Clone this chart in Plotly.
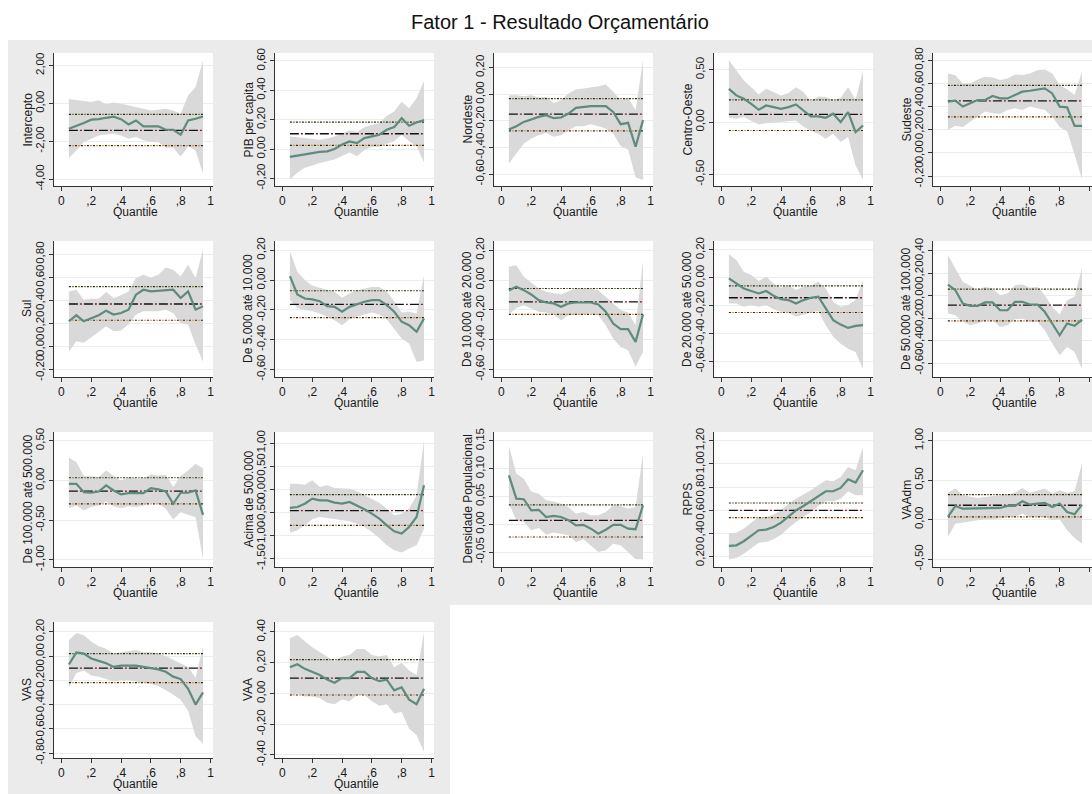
import plotly.graph_objects as go

# ---------------- data ----------------
quantiles = [0.05, 0.10, 0.15, 0.20, 0.25, 0.30, 0.35, 0.40, 0.45, 0.50,
             0.55, 0.60, 0.65, 0.70, 0.75, 0.80, 0.85, 0.90, 0.95]

x_tick_vals = [0, 0.2, 0.4, 0.6, 0.8, 1]
x_tick_text = ["0", ",2", ",4", ",6", ",8", "1"]

# Intercepto
intercepto_coef = [-1.34, -1.21, -1.04, -0.86, -0.83, -0.76, -0.70, -0.83, -1.11, -0.90, -1.21, -1.21, -1.21, -1.39, -1.39, -1.65, -0.90, -0.81, -0.69]
intercepto_hi = [0.23, 0.16, 0.12, 0.07, 0.16, -0.05, 0.05, -0.02, -0.11, -0.19, -0.28, -0.37, -0.33, -0.28, -0.37, -0.55, 0.42, 0.86, 2.27]
intercepto_lo = [-2.88, -2.48, -2.04, -1.86, -1.69, -1.64, -1.60, -1.69, -1.86, -1.78, -1.95, -2.04, -2.04, -2.34, -2.34, -2.80, -2.27, -2.48, -3.71]
intercepto_ols = [-1.42, -2.23, -0.58]

# PIB per capita
pib_coef = [-0.054, -0.045, -0.036, -0.027, -0.020, -0.016, 0.000, 0.030, 0.052, 0.040, 0.074, 0.086, 0.097, 0.131, 0.149, 0.210, 0.158, 0.180, 0.198]
pib_hi = [0.086, 0.079, 0.072, 0.068, 0.063, 0.072, 0.086, 0.108, 0.126, 0.117, 0.149, 0.165, 0.176, 0.225, 0.255, 0.322, 0.277, 0.345, 0.464]
pib_lo = [-0.207, -0.162, -0.128, -0.113, -0.095, -0.083, -0.072, -0.050, -0.023, -0.050, -0.005, 0.014, 0.014, 0.036, 0.052, 0.097, 0.052, 0.018, -0.090]
pib_ols = [0.104, 0.025, 0.183]

# Nordeste
ne_coef = [-0.265, -0.240, -0.208, -0.190, -0.170, -0.158, -0.180, -0.175, -0.145, -0.103, -0.095, -0.090, -0.090, -0.090, -0.133, -0.225, -0.215, -0.395, -0.195]
ne_hi = [-0.008, -0.008, -0.015, -0.008, -0.025, -0.020, -0.065, -0.045, 0.005, 0.035, 0.043, 0.050, 0.060, 0.073, 0.018, -0.045, -0.025, -0.120, 0.255]
ne_lo = [-0.520, -0.445, -0.370, -0.333, -0.308, -0.290, -0.320, -0.308, -0.270, -0.240, -0.240, -0.225, -0.240, -0.258, -0.295, -0.390, -0.415, -0.625, -0.645]
ne_ols = [-0.150, -0.275, -0.033]

# Centro-Oeste
co_coef = [0.318, 0.255, 0.223, 0.175, 0.118, 0.159, 0.143, 0.127, 0.143, 0.169, 0.111, 0.054, 0.054, 0.041, 0.080, 0.000, 0.096, -0.096, -0.032]
co_hi = [0.590, 0.494, 0.398, 0.334, 0.264, 0.318, 0.287, 0.255, 0.277, 0.334, 0.287, 0.200, 0.245, 0.239, 0.207, 0.232, 0.334, 0.213, 0.494]
co_lo = [0.041, 0.032, 0.048, 0.016, -0.022, -0.010, 0.000, 0.000, 0.010, 0.016, -0.041, -0.086, -0.111, -0.159, -0.111, -0.190, -0.143, -0.414, -0.551]
co_ols = [0.073, -0.080, 0.213]

# Sudeste
se_coef = [0.443, 0.451, 0.400, 0.429, 0.457, 0.457, 0.491, 0.471, 0.471, 0.500, 0.529, 0.537, 0.549, 0.557, 0.514, 0.400, 0.394, 0.234, 0.234]
se_hi = [0.686, 0.671, 0.600, 0.600, 0.634, 0.657, 0.651, 0.629, 0.643, 0.677, 0.674, 0.686, 0.714, 0.720, 0.686, 0.586, 0.549, 0.500, 0.700]
se_lo = [0.200, 0.234, 0.223, 0.271, 0.314, 0.357, 0.343, 0.337, 0.371, 0.386, 0.371, 0.400, 0.386, 0.371, 0.314, 0.223, 0.186, -0.014, -0.229]
se_ols = [0.449, 0.311, 0.583]

# Sul
sul_coef = [0.219, 0.271, 0.219, 0.248, 0.271, 0.311, 0.277, 0.291, 0.320, 0.450, 0.493, 0.478, 0.484, 0.493, 0.493, 0.421, 0.478, 0.320, 0.349]
sul_hi = [0.478, 0.493, 0.406, 0.415, 0.415, 0.473, 0.421, 0.444, 0.478, 0.594, 0.622, 0.600, 0.622, 0.686, 0.666, 0.608, 0.709, 0.594, 0.839]
sul_lo = [-0.046, 0.046, 0.032, 0.075, 0.127, 0.176, 0.133, 0.138, 0.190, 0.277, 0.305, 0.305, 0.305, 0.320, 0.291, 0.205, 0.190, 0.017, -0.133]
sul_ols = [0.369, 0.228, 0.519]

# De 5.000 até 10.000
p5_coef = [0.026, -0.097, -0.124, -0.130, -0.142, -0.175, -0.180, -0.213, -0.180, -0.162, -0.146, -0.135, -0.135, -0.169, -0.213, -0.280, -0.303, -0.348, -0.258]
p5_hi = [0.195, 0.056, 0.000, -0.039, -0.052, -0.068, -0.079, -0.119, -0.090, -0.068, -0.057, -0.046, -0.046, -0.079, -0.142, -0.218, -0.213, -0.225, 0.032]
p5_lo = [-0.135, -0.187, -0.202, -0.209, -0.225, -0.247, -0.270, -0.303, -0.263, -0.247, -0.231, -0.218, -0.231, -0.263, -0.326, -0.393, -0.426, -0.550, -0.539]
p5_ols = [-0.164, -0.252, -0.072]

# De 10.000 até 20.000
p10_coef = [-0.070, -0.045, -0.068, -0.097, -0.135, -0.151, -0.157, -0.180, -0.157, -0.151, -0.151, -0.151, -0.164, -0.213, -0.292, -0.330, -0.330, -0.415, -0.231]
p10_hi = [0.089, 0.100, 0.022, -0.016, -0.057, -0.079, -0.090, -0.097, -0.075, -0.057, -0.057, -0.057, -0.068, -0.113, -0.157, -0.202, -0.218, -0.303, 0.127]
p10_lo = [-0.231, -0.187, -0.169, -0.191, -0.213, -0.218, -0.231, -0.270, -0.236, -0.231, -0.231, -0.225, -0.236, -0.303, -0.393, -0.449, -0.471, -0.583, -0.483]
p10_ols = [-0.146, -0.231, -0.057]

# De 20.000 até 50.000
p20_coef = [-0.005, -0.041, -0.077, -0.096, -0.113, -0.096, -0.130, -0.154, -0.161, -0.185, -0.161, -0.144, -0.137, -0.221, -0.305, -0.337, -0.361, -0.346, -0.341]
p20_hi = [0.168, 0.127, 0.043, 0.019, -0.024, 0.007, -0.041, -0.072, -0.053, -0.089, -0.065, -0.058, -0.029, -0.077, -0.173, -0.209, -0.197, -0.161, -0.017]
p20_lo = [-0.185, -0.185, -0.209, -0.197, -0.209, -0.197, -0.226, -0.245, -0.250, -0.281, -0.264, -0.250, -0.240, -0.341, -0.425, -0.474, -0.510, -0.534, -0.659]
p20_ols = [-0.144, -0.250, -0.058]

# De 50.000 até 100.000
p50_coef = [0.100, 0.050, -0.068, -0.089, -0.089, -0.059, -0.059, -0.128, -0.128, -0.053, -0.053, -0.077, -0.077, -0.142, -0.246, -0.350, -0.246, -0.267, -0.211]
p50_hi = [0.362, 0.243, 0.125, 0.089, 0.050, 0.080, 0.065, 0.006, 0.021, 0.095, 0.101, 0.071, 0.080, 0.006, -0.098, -0.166, -0.039, -0.009, 0.249]
p50_lo = [-0.157, -0.172, -0.231, -0.261, -0.246, -0.217, -0.217, -0.276, -0.261, -0.208, -0.202, -0.231, -0.231, -0.306, -0.424, -0.528, -0.454, -0.499, -0.653]
p50_ols = [-0.083, -0.223, 0.059]

# De 100.000 até 500.000
p100_coef = [-0.042, -0.042, -0.147, -0.155, -0.139, -0.063, -0.126, -0.176, -0.160, -0.160, -0.160, -0.097, -0.113, -0.139, -0.294, -0.155, -0.155, -0.126, -0.433]
p100_hi = [0.286, 0.231, 0.055, 0.050, 0.042, 0.126, 0.055, 0.000, 0.042, 0.021, 0.029, 0.076, 0.063, 0.071, -0.084, 0.055, 0.126, 0.210, 0.155]
p100_lo = [-0.349, -0.315, -0.378, -0.336, -0.315, -0.265, -0.324, -0.349, -0.324, -0.336, -0.315, -0.282, -0.294, -0.357, -0.492, -0.399, -0.433, -0.462, -0.987]
p100_ols = [-0.134, -0.294, 0.034]

# Acima de 500.000
p500_coef = [-0.403, -0.382, -0.310, -0.202, -0.238, -0.238, -0.288, -0.310, -0.274, -0.346, -0.432, -0.526, -0.634, -0.778, -0.908, -0.958, -0.814, -0.598, 0.086]
p500_hi = [0.122, 0.122, 0.101, 0.195, 0.050, 0.086, 0.029, 0.029, 0.014, -0.043, -0.130, -0.202, -0.288, -0.418, -0.562, -0.526, -0.418, -0.130, 1.059]
p500_lo = [-0.937, -0.886, -0.778, -0.648, -0.598, -0.620, -0.634, -0.670, -0.692, -0.742, -0.814, -0.922, -1.052, -1.210, -1.318, -1.369, -1.282, -1.210, -0.850]
p500_ols = [-0.461, -0.778, -0.115]

# Densidade Populacional
dens_coef = [0.088, 0.046, 0.045, 0.025, 0.026, 0.013, 0.015, 0.013, 0.007, -0.002, -0.001, -0.008, -0.017, -0.010, -0.001, -0.001, -0.008, -0.009, 0.034]
dens_hi = [0.141, 0.091, 0.082, 0.059, 0.055, 0.043, 0.041, 0.037, 0.031, 0.019, 0.022, 0.016, 0.016, 0.022, 0.034, 0.033, 0.028, 0.031, 0.127]
dens_lo = [0.037, 0.007, 0.004, -0.011, -0.007, -0.019, -0.015, -0.017, -0.020, -0.032, -0.027, -0.038, -0.050, -0.047, -0.035, -0.038, -0.050, -0.063, -0.063]
dens_ols = [0.007, -0.023, 0.035]

# RPPS
rpps_coef = [0.293, 0.298, 0.333, 0.379, 0.428, 0.433, 0.456, 0.494, 0.551, 0.600, 0.637, 0.678, 0.724, 0.764, 0.764, 0.793, 0.867, 0.839, 0.945]
rpps_hi = [0.399, 0.407, 0.442, 0.494, 0.543, 0.543, 0.563, 0.600, 0.657, 0.700, 0.735, 0.772, 0.816, 0.859, 0.850, 0.887, 0.974, 0.945, 1.146]
rpps_lo = [0.178, 0.189, 0.226, 0.275, 0.321, 0.327, 0.350, 0.390, 0.448, 0.499, 0.543, 0.586, 0.637, 0.678, 0.678, 0.700, 0.764, 0.729, 0.729]
rpps_ols = [0.600, 0.537, 0.663]

# VAAdm
vaadm_coef = [0.034, 0.173, 0.139, 0.139, 0.139, 0.139, 0.139, 0.148, 0.173, 0.173, 0.232, 0.190, 0.203, 0.211, 0.160, 0.203, 0.097, 0.068, 0.190]
vaadm_hi = [0.342, 0.393, 0.308, 0.287, 0.275, 0.287, 0.300, 0.308, 0.317, 0.342, 0.401, 0.342, 0.372, 0.393, 0.330, 0.372, 0.342, 0.359, 0.710]
vaadm_lo = [-0.220, -0.051, -0.030, -0.021, -0.008, 0.004, 0.004, 0.013, 0.034, 0.034, 0.076, 0.034, 0.034, 0.034, -0.008, 0.004, -0.135, -0.232, -0.304]
vaadm_ols = [0.182, 0.034, 0.317]

# VAS
vas_coef = [-0.07, 0.03, 0.02, -0.02, -0.04, -0.06, -0.09, -0.08, -0.08, -0.08, -0.09, -0.10, -0.11, -0.13, -0.17, -0.19, -0.27, -0.40, -0.30]
vas_hi = [0.13, 0.19, 0.17, 0.12, 0.08, 0.06, 0.02, 0.03, 0.04, 0.05, 0.03, 0.03, 0.02, 0.00, -0.03, -0.06, -0.09, -0.18, 0.08]
vas_lo = [-0.26, -0.14, -0.12, -0.16, -0.17, -0.19, -0.21, -0.20, -0.20, -0.21, -0.22, -0.23, -0.25, -0.28, -0.32, -0.36, -0.45, -0.66, -0.72]
vas_ols = [-0.10, -0.22, 0.02]

# VAA
vaa_coef = [0.17, 0.19, 0.16, 0.14, 0.12, 0.09, 0.07, 0.10, 0.10, 0.14, 0.14, 0.10, 0.08, 0.09, 0.02, 0.04, -0.04, -0.07, 0.03]
vaa_hi = [0.36, 0.38, 0.34, 0.30, 0.27, 0.24, 0.21, 0.24, 0.25, 0.29, 0.29, 0.25, 0.24, 0.25, 0.17, 0.20, 0.15, 0.12, 0.40]
vaa_lo = [-0.02, 0.00, -0.02, -0.02, -0.03, -0.06, -0.07, -0.04, -0.05, -0.01, -0.01, -0.05, -0.08, -0.07, -0.13, -0.12, -0.23, -0.27, -0.38]
vaa_ols = [0.10, -0.01, 0.22]

panel_titles = ["Intercepto", "PIB per capita", "Nordeste", "Centro-Oeste", "Sudeste",
                "Sul", "De 5.000 até 10.000", "De 10.000 até 20.000", "De 20.000 até 50.000", "De 50.000 até 100.000",
                "De 100.000 até 500.000", "Acima de 500.000", "Densidade Populacional", "RPPS", "VAAdm",
                "VAS", "VAA"]

y_tick_vals = [
    [-4, -2, 0, 2],
    [-0.2, 0, 0.2, 0.4, 0.6],
    [-0.6, -0.4, -0.2, 0, 0.2],
    [-0.5, 0, 0.5],
    [-0.2, 0, 0.2, 0.4, 0.6, 0.8],
    [-0.2, 0, 0.2, 0.4, 0.6, 0.8],
    [-0.6, -0.4, -0.2, 0, 0.2],
    [-0.6, -0.4, -0.2, 0, 0.2],
    [-0.6, -0.4, -0.2, 0, 0.2],
    [-0.6, -0.4, -0.2, 0, 0.2, 0.4],
    [-1, -0.5, 0, 0.5],
    [-1.5, -1, -0.5, 0, 0.5, 1],
    [-0.05, 0, 0.05, 0.1, 0.15],
    [0.2, 0.4, 0.6, 0.8, 1.0, 1.2],
    [-0.5, 0, 0.5, 1],
    [-0.8, -0.6, -0.4, -0.2, 0, 0.2],
    [-0.4, -0.2, 0, 0.2, 0.4],
]

y_ranges = [
    [-4.36, 2.66], [-0.252, 0.654], [-0.69, 0.31], [-0.61, 0.66], [-0.286, 0.863],
    [-0.265, 0.916], [-0.651, 0.262], [-0.651, 0.262], [-0.714, 0.264], [-0.721, 0.487],
    [-1.09, 0.61], [-1.68, 1.24], [-0.077, 0.166], [0.111, 1.275], [-0.60, 1.11],
    [-0.84, 0.28], [-0.42, 0.465],
]

coefs = [intercepto_coef, pib_coef, ne_coef, co_coef, se_coef, sul_coef, p5_coef, p10_coef, p20_coef,
         p50_coef, p100_coef, p500_coef, dens_coef, rpps_coef, vaadm_coef, vas_coef, vaa_coef]
his = [intercepto_hi, pib_hi, ne_hi, co_hi, se_hi, sul_hi, p5_hi, p10_hi, p20_hi,
       p50_hi, p100_hi, p500_hi, dens_hi, rpps_hi, vaadm_hi, vas_hi, vaa_hi]
los = [intercepto_lo, pib_lo, ne_lo, co_lo, se_lo, sul_lo, p5_lo, p10_lo, p20_lo,
       p50_lo, p100_lo, p500_lo, dens_lo, rpps_lo, vaadm_lo, vas_lo, vaa_lo]
olss = [intercepto_ols, pib_ols, ne_ols, co_ols, se_ols, sul_ols, p5_ols, p10_ols, p20_ols,
        p50_ols, p100_ols, p500_ols, dens_ols, rpps_ols, vaadm_ols, vas_ols, vaa_ols]

# ---------------- layout geometry (pixels) ----------------
W, H = 1092, 794
col_left = [54, 275, 494, 714, 933]
col_width = 159
rows_px = [(53, 186), (241, 377), (432, 567), (622, 758)]

FONT = "Liberation Sans, Arial, sans-serif"
TXT = "#1a1a1a"
GREEN = "#5e8b7b"
BAND = "#d9d9d9"
GRID = "#e6eeee"
PANEL_BG = "#ebebeb"


def px_x(p):
    return p / W


def px_y(p):
    return 1 - p / H


def fmt(v):
    return f"{v:.2f}".replace(".", ",")


fig = go.Figure()
layout_axes = {}
annotations = []
shapes = [
    dict(type="rect", xref="paper", yref="paper", x0=px_x(8), x1=1, y0=px_y(605), y1=px_y(40),
         fillcolor=PANEL_BG, line=dict(width=0), layer="below"),
    dict(type="rect", xref="paper", yref="paper", x0=px_x(8), x1=px_x(450), y0=0, y1=px_y(605),
         fillcolor=PANEL_BG, line=dict(width=0), layer="below"),
]

for i in range(17):
    r, c = divmod(i, 5)
    n = i + 1
    xa = "x" if n == 1 else f"x{n}"
    ya = "y" if n == 1 else f"y{n}"
    L = col_left[c]
    top, bot = rows_px[r]
    q = quantiles
    coef, hi, lo, ols = coefs[i], his[i], los[i], olss[i]

    # white plot region
    shapes.append(dict(type="rect", xref="paper", yref="paper",
                       x0=px_x(L), x1=px_x(L + col_width), y0=px_y(bot), y1=px_y(top),
                       fillcolor="white", line=dict(width=0), layer="below"))

    # CI band
    fig.add_trace(go.Scatter(x=q + q[::-1], y=hi + lo[::-1], fill="toself", fillcolor=BAND,
                             line=dict(width=0), mode="lines", hoverinfo="skip",
                             xaxis=xa, yaxis=ya, showlegend=False))
    # OLS CI dotted lines (upper / lower)
    for val, col2 in [(ols[2], "#7d7d3a"), (ols[1], "#e0912c")]:
        fig.add_trace(go.Scatter(x=[q[0], q[-1]], y=[val, val], mode="lines",
                                 line=dict(color="#222222", width=1.2, dash="2px,4px"),
                                 xaxis=xa, yaxis=ya, showlegend=False, hoverinfo="skip"))
        fig.add_trace(go.Scatter(x=[q[0], q[-1]], y=[val, val], mode="lines",
                                 line=dict(color=col2, width=1.2, dash="0px,3px,2px,1px"),
                                 xaxis=xa, yaxis=ya, showlegend=False, hoverinfo="skip"))
    # OLS coefficient long dash
    fig.add_trace(go.Scatter(x=[q[0], q[-1]], y=[ols[0], ols[0]], mode="lines",
                             line=dict(color="#111111", width=1.3, dash="9px,6px"),
                             xaxis=xa, yaxis=ya, showlegend=False, hoverinfo="skip"))
    fig.add_trace(go.Scatter(x=[q[0], q[-1]], y=[ols[0], ols[0]], mode="lines",
                             line=dict(color="#8b1a1a", width=1.3, dash="0px,11px,2px,2px"),
                             xaxis=xa, yaxis=ya, showlegend=False, hoverinfo="skip"))
    # quantile coefficient line
    fig.add_trace(go.Scatter(x=q, y=coef, mode="lines",
                             line=dict(color=GREEN, width=2.2),
                             xaxis=xa, yaxis=ya, showlegend=False))

    xkey = "xaxis" if n == 1 else f"xaxis{n}"
    ykey = "yaxis" if n == 1 else f"yaxis{n}"
    layout_axes[xkey] = dict(
        domain=[px_x(L), px_x(L + col_width)], anchor=ya, range=[-0.05, 1.017],
        tickmode="array", tickvals=x_tick_vals, ticktext=x_tick_text,
        showgrid=False, zeroline=False, showline=True, linecolor="#333333", linewidth=1,
        ticks="outside", ticklen=4, tickcolor="#333333",
        tickfont=dict(family=FONT, size=12, color=TXT), fixedrange=True)
    layout_axes[ykey] = dict(
        domain=[px_y(bot), px_y(top)], anchor=xa, range=y_ranges[i],
        tickmode="array", tickvals=y_tick_vals[i], ticktext=[fmt(v) for v in y_tick_vals[i]],
        tickangle=-90, showgrid=True, gridcolor=GRID, gridwidth=1, zeroline=False,
        showline=True, linecolor="#333333", linewidth=1,
        ticks="outside", ticklen=4, tickcolor="#333333",
        tickfont=dict(family=FONT, size=11.5, color=TXT), fixedrange=True)

    # axis titles
    annotations.append(dict(text=panel_titles[i], x=px_x(L - 27), y=px_y((top + bot) / 2),
                            xref="paper", yref="paper", showarrow=False, textangle=-90,
                            xanchor="center", yanchor="middle",
                            font=dict(family=FONT, size=12, color=TXT)))
    annotations.append(dict(text="Quantile", x=0.5, xref=xa, y=px_y(bot + 26), yref="paper",
                            showarrow=False, xanchor="center", yanchor="middle",
                            font=dict(family=FONT, size=12, color=TXT)))

annotations.append(dict(text="Fator 1 - Resultado Orçamentário", x=px_x(560), y=px_y(22),
                        xref="paper", yref="paper", showarrow=False,
                        xanchor="center", yanchor="middle",
                        font=dict(family=FONT, size=20, color="#111111")))

fig.update_layout(
    width=W, height=H, margin=dict(l=0, r=0, t=0, b=0),
    template="none", paper_bgcolor="white", plot_bgcolor="white",
    showlegend=False, annotations=annotations, shapes=shapes,
    font=dict(family=FONT, color=TXT),
    **layout_axes,
)

fig.write_html("out.html", config={"displayModeBar": False})
